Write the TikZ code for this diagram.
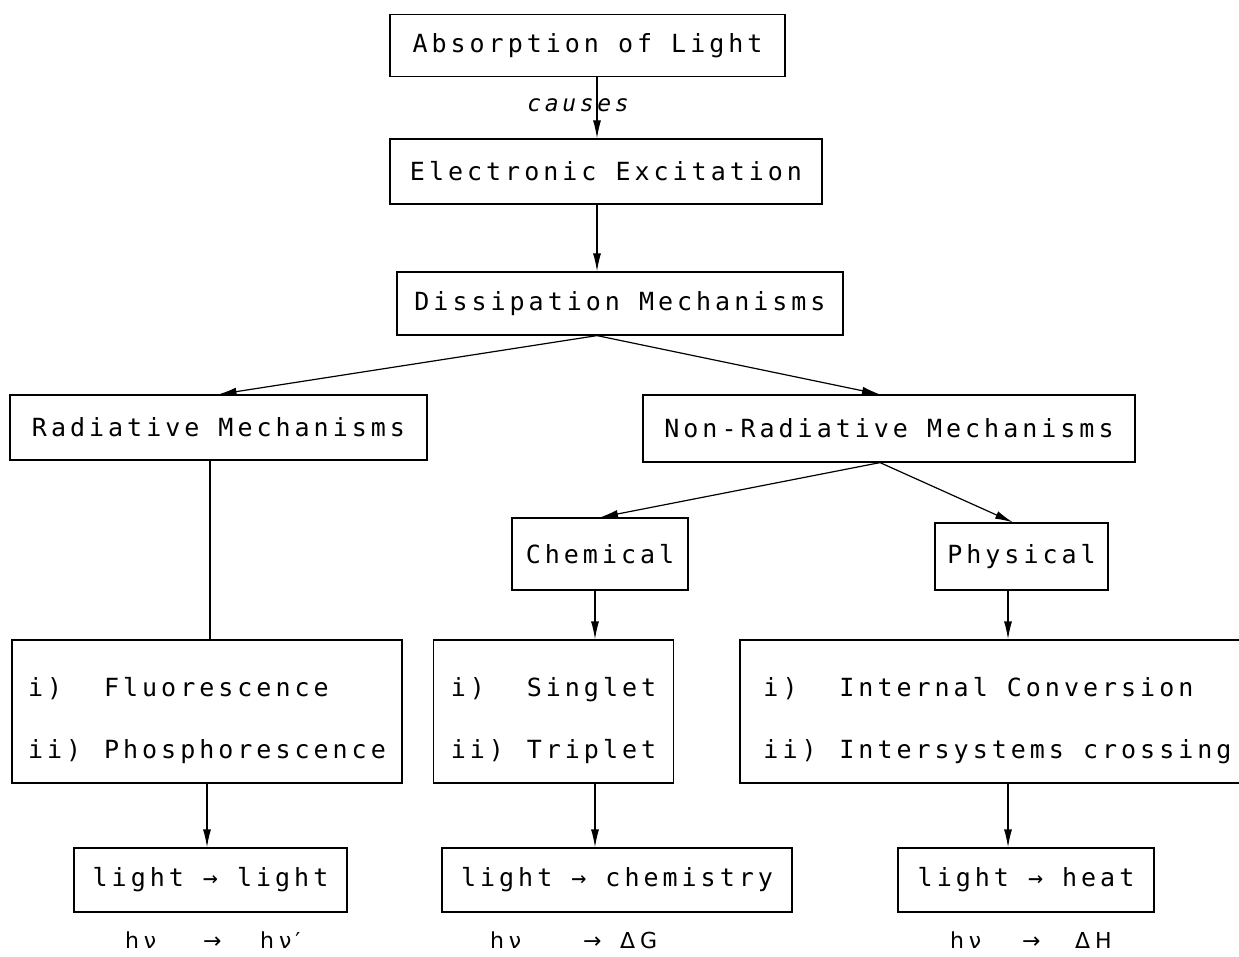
\documentclass[tikz,border=0pt]{standalone}
\usepackage{fontspec}
\setmainfont{DejaVu Sans}
\newfontfamily\dm[LetterSpace=16]{DejaVu Sans Mono}
\newfontfamily\eqf[LetterSpace=22]{DejaVu Sans}
\usetikzlibrary{arrows.meta}
\newcommand\itm[2]{\makebox[76pt][l]{#1}#2}
\newcommand\lowr{\rule{0pt}{37pt}}
\tikzset{
  box/.style={draw, line width=1.2pt, inner sep=0pt, font=\dm\fontsize{25}{29}\selectfont},
  listbox/.style={box, align=left, font=\dm\fontsize{25}{62}\selectfont},
  arr/.style={line width=1.2pt, -{Latex[length=18pt,width=8pt]}},
  conn/.style={line width=1.2pt},
  eq/.style={font=\eqf\fontsize{22}{26}\selectfont, inner sep=0pt, anchor=west},
  lbl/.style={font=\dm\itshape\fontsize{23}{27}\selectfont, inner sep=0pt}
}
\begin{document}
\begin{tikzpicture}[x=1pt,y=-1pt]
\useasboundingbox (0,0) rectangle (1239,957);
\clip (0,0) rectangle (1239,957);
% nodes
\node[box, minimum width=395pt, minimum height=62pt] (abs) at (587.5,45.5) {Absorption of Light};
\node[box, minimum width=432pt, minimum height=65pt] (elec) at (606,171.5) {Electronic Excitation};
\node[box, minimum width=446pt, minimum height=63pt] (diss) at (620,303.5) {Dissipation Mechanisms};
\node[box, minimum width=417pt, minimum height=65pt] (rad) at (218.5,427.5) {Radiative Mechanisms};
\node[box, minimum width=492pt, minimum height=67pt] (nonrad) at (889,428.5) {Non-Radiative Mechanisms};
\node[box, minimum width=176pt, minimum height=72pt] (chem) at (600,554) {Chemical};
\node[box, minimum width=173pt, minimum height=67pt] (phys) at (1021.5,556.5) {Physical};
\node[listbox, minimum width=390pt, minimum height=143pt] (fluo) at (207,711.5) {\lowr\itm{i)}{Fluorescence}\\\itm{ii)}{Phosphorescence}};
\node[listbox, minimum width=240pt, minimum height=143pt] (sing) at (553.5,711.5) {\lowr\itm{i)}{Singlet}\\\itm{ii)}{Triplet}};
\node[listbox, minimum width=515pt, minimum height=143pt] (intc) at (997.5,711.5) {\lowr\itm{i)}{Internal Conversion}\\\itm{ii)}{Intersystems crossing}};
\node[box, minimum width=273pt, minimum height=64pt] (ll) at (210.5,880) {light → light};
\node[box, minimum width=350pt, minimum height=64pt] (lc) at (617,880) {light → chemistry};
\node[box, minimum width=256pt, minimum height=64pt] (lh) at (1026,880) {light → heat};
\node[lbl] (causes) at (578,105) {causes};
\node[eq] (e1) at (125,940) {\makebox[78pt][l]{hν}\makebox[57pt][l]{→}hν\kern4pt′};
\node[eq] (e2) at (490,940) {\makebox[93pt][l]{hν}\makebox[37pt][l]{→}ΔG};
\node[eq] (e3) at (950,940) {\makebox[72pt][l]{hν}\makebox[53pt][l]{→}ΔH};
% coordinates for connector x positions
\coordinate (xa) at (597,0);
\coordinate (xn) at (880,0);
\coordinate (xp) at (1013,0);
\coordinate (xr) at (210,0);
\coordinate (xf) at (207,0);
\coordinate (xc) at (595,0);
\coordinate (xi) at (1008,0);
% connectors
\draw[arr] (abs.south -| xa) -- (elec.north -| xa);
\draw[arr] (elec.south -| xa) -- (diss.north -| xa);
\draw[arr] (diss.south -| xa) -- (rad.north);
\draw[arr] (diss.south -| xa) -- (nonrad.north -| xn);
\draw[arr] (nonrad.south -| xn) -- (chem.north);
\draw[arr] (nonrad.south -| xn) -- (phys.north -| xp);
\draw[conn] (rad.south -| xr) -- (fluo.north -| xr);
\draw[arr] (chem.south -| xc) -- (sing.north -| xc);
\draw[arr] (phys.south -| xi) -- (intc.north -| xi);
\draw[arr] (fluo.south -| xf) -- (ll.north -| xf);
\draw[arr] (sing.south -| xc) -- (lc.north -| xc);
\draw[arr] (intc.south -| xi) -- (lh.north -| xi);
\end{tikzpicture}
\end{document}
